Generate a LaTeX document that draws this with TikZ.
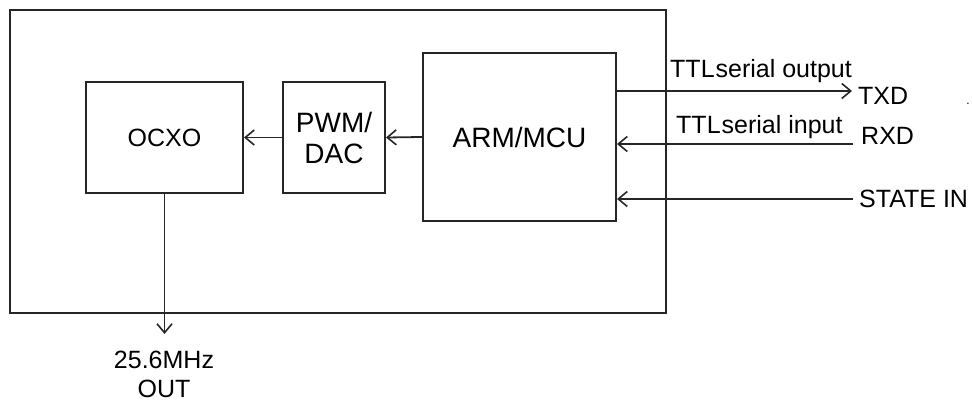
\documentclass[tikz,border=0pt]{standalone}
\usepackage{fontspec}
\setmainfont{Liberation Sans}
\usetikzlibrary{arrows.meta}
\begin{document}
\begin{tikzpicture}[x=1pt,y=-1pt,
  box/.style={draw=black!85,line width=2pt,inner sep=0pt,align=center},
  conn/.style={draw=black!85,line width=1.8pt},
  arr/.style={conn,-{Straight Barb[length=9pt,width=15pt,line width=1.6pt]}},
  lbl/.style={inner sep=0pt,font=\fontsize{25}{28}\selectfont},
  blk/.style={font=\fontsize{28}{31}\selectfont}]
\useasboundingbox (0,0) rectangle (972,403);
\node[box,minimum width=656pt,minimum height=303pt] (frame) at (338,161.5) {};
\node[box,minimum width=157pt,minimum height=111pt,font=\fontsize{25}{28}\selectfont] (ocxo) at (164.5,137.5) {OCXO};
\node[box,minimum width=102pt,minimum height=111pt,blk] (pwm) at (334,137.5) {PWM/\\DAC};
\node[box,minimum width=193pt,minimum height=168pt,blk] (arm) at (519.5,137) {ARM/MCU};
\coordinate (txdend) at (852,91);
\coordinate (rxdstart) at (853,144);
\coordinate (ststart) at (853,199);
\coordinate (outend) at (164.5,334);
\draw[arr] (arm.west) -- (pwm.east);
\draw[arr] (pwm.west) -- (ocxo.east);
\draw[arr] (arm.east |- txdend) -- (txdend);
\draw[arr] (rxdstart) -- (arm.east |- rxdstart);
\draw[arr] (ststart) -- (arm.east |- ststart);
\draw[arr] (ocxo.south) -- (outend);
\node[lbl,anchor=base west] (ttlo) at (670,78) {TTL\hspace{1pt}serial output};
\node[lbl,anchor=base west] (ttli) at (676,134) {TTL\hspace{1pt}serial input};
\node[lbl,anchor=base west] (txd) at (858,105) {TXD};
\node[lbl,anchor=base west] (rxd) at (861,145) {RXD};
\node[lbl,anchor=base west] (st) at (859,208) {STATE IN};
\node[lbl,anchor=base] (freq) at (164,368) {25.6MHz};
\node[lbl,anchor=base] (out) at (164,397) {OUT};
\node[inner sep=0pt,font=\fontsize{12}{12}\selectfont] (dot) at (968,104) {.};
\end{tikzpicture}
\end{document}
